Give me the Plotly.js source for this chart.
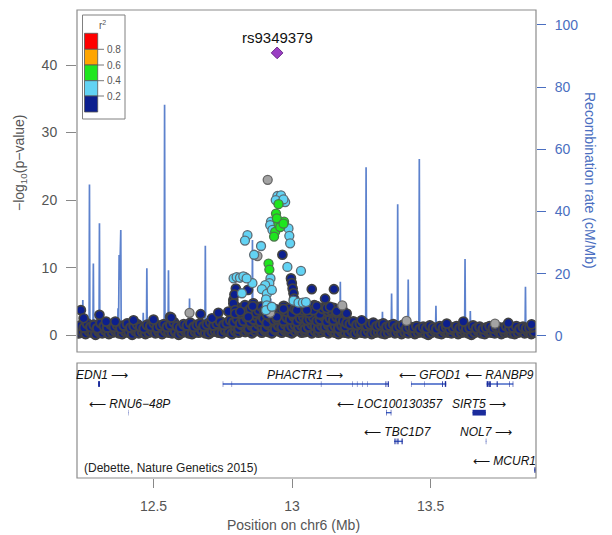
<!DOCTYPE html>
<html><head><meta charset="utf-8">
<script src="https://cdn.plot.ly/plotly-3.0.1.min.js"></script>
<style>html,body{margin:0;padding:0;background:#fff}#chart{width:612px;height:535px}</style>
</head><body><div id="chart"></div>
<script>
// ---------------- DATA ----------------
var lead_pos = [12.946];
var lead_p = [41.8];
var lead_name = 'rs9349379';

// r2 < 0.2 (navy): low band row
var navyA_pos = [12.231,12.243,12.255,12.267,12.279,12.291,12.303,12.315,12.327,12.339,
12.351,12.363,12.375,12.387,12.399,12.411,12.423,12.435,12.447,12.459,
12.471,12.483,12.495,12.507,12.519,12.531,12.543,12.555,12.567,12.579,
12.591,12.603,12.615,12.627,12.639,12.651,12.663,12.675,12.687,12.699,
12.711,12.723,12.735,12.747,12.759,12.771,12.783,12.795,12.807,12.819,
12.831,12.843,12.855,12.867,12.879,12.891,12.903,12.915,12.927,12.939,
12.951,12.963,12.975,12.987,12.999,13.011,13.023,13.035,13.047,13.059,
13.071,13.083,13.095,13.107,13.119,13.131,13.143,13.155,13.167,13.179,
13.191,13.203,13.215,13.227,13.239,13.251,13.263,13.275,13.287,13.299,
13.311,13.323,13.335,13.347,13.359,13.371,13.383,13.395,13.407,13.419,
13.431,13.443,13.455,13.467,13.479,13.491,13.503,13.515,13.527,13.539,
13.551,13.563,13.575,13.587,13.599,13.611,13.623,13.635,13.647,13.659,
13.671,13.683,13.695,13.707,13.719,13.731,13.743,13.755,13.767,13.779,
13.791,13.803,13.815,13.827,13.839,13.851,13.863,13.873];
var navyA_p = [0.3,0.5,0.2,0.6,0.4,0.1,0.5,0.3,0.7,0.2,
0.4,0.6,0.3,0.2,0.5,0.4,0.1,0.6,0.3,0.5,
0.2,0.4,0.7,0.3,0.5,0.2,0.6,0.4,0.3,0.5,
0.1,0.4,0.6,0.3,0.2,0.5,0.4,0.7,0.3,0.2,
0.5,0.6,0.4,0.3,0.7,0.5,0.2,0.6,0.4,0.8,
0.5,0.7,0.3,0.6,0.9,0.4,0.7,0.5,0.3,0.8,
0.6,0.4,0.7,0.5,0.3,0.6,0.8,0.4,0.5,0.7,
0.3,0.6,0.4,0.5,0.7,0.3,0.6,0.4,0.2,0.5,
0.4,0.3,0.6,0.2,0.5,0.4,0.3,0.6,0.2,0.4,
0.5,0.3,0.2,0.4,0.6,0.3,0.5,0.2,0.4,0.3,
0.6,0.2,0.4,0.5,0.3,0.1,0.4,0.6,0.3,0.2,
0.5,0.4,0.3,0.6,0.2,0.4,0.5,0.3,0.1,0.4,
0.6,0.3,0.2,0.5,0.4,0.3,0.6,0.2,0.4,0.5,
0.3,0.2,0.4,0.6,0.3,0.5,0.2,0.4];

// navy: upper band row
var navyB_pos = [12.237,12.249,12.261,12.273,12.285,12.297,12.309,12.321,12.333,12.345,
12.357,12.369,12.381,12.393,12.405,12.417,12.429,12.441,12.453,12.465,
12.477,12.489,12.501,12.513,12.525,12.537,12.549,12.561,12.573,12.585,
12.597,12.609,12.621,12.633,12.645,12.657,12.669,12.681,12.693,12.705,
12.717,12.729,12.741,12.753,12.765,12.777,12.789,12.801,12.813,12.825,
12.837,12.849,12.861,12.873,12.885,12.897,12.909,12.921,12.933,12.945,
12.957,12.969,12.981,12.993,13.005,13.017,13.029,13.041,13.053,13.065,
13.077,13.089,13.101,13.113,13.125,13.137,13.149,13.161,13.173,13.185,
13.197,13.209,13.221,13.233,13.245,13.257,13.269,13.281,13.293,13.305,
13.317,13.329,13.341,13.353,13.365,13.377,13.389,13.401,13.413,13.425,
13.437,13.449,13.461,13.473,13.485,13.497,13.509,13.521,13.533,13.545,
13.557,13.569,13.581,13.593,13.605,13.617,13.629,13.641,13.653,13.665,
13.677,13.689,13.701,13.713,13.725,13.737,13.749,13.761,13.773,13.785,
13.797,13.809,13.821,13.833,13.845,13.857,13.869];
var navyB_p = [1.4,1.1,1.7,1.2,1.5,1.0,1.8,1.3,1.1,1.6,
1.2,1.5,1.0,1.4,1.7,1.1,1.3,1.6,1.2,1.0,
1.5,1.3,1.8,1.1,1.4,1.6,1.2,1.5,1.9,1.3,
1.1,1.6,1.4,1.8,1.2,1.5,1.7,1.3,1.6,1.9,
1.4,1.7,2.0,1.5,1.8,2.2,1.9,2.4,1.7,2.1,
2.6,1.9,2.3,2.8,2.0,2.5,1.8,2.7,2.2,2.4,
2.9,2.1,2.6,2.3,2.8,2.0,2.5,2.7,2.2,2.4,
2.6,2.1,2.3,2.8,2.0,2.5,2.2,2.7,2.4,2.1,
1.8,1.6,2.0,1.5,1.7,1.9,1.4,1.6,1.8,1.3,
1.5,1.7,1.2,1.4,1.6,1.1,1.3,1.5,1.0,1.2,
1.1,1.3,0.9,1.2,1.0,1.4,1.1,0.9,1.3,1.0,
1.2,0.9,1.1,1.3,1.0,1.2,0.9,1.1,1.4,1.0,
1.2,0.9,1.1,1.3,1.0,1.2,1.1,0.9,1.3,1.0,
1.1,1.3,0.9,1.2,1.0,1.1,1.2];

// navy: raised band around the peak
var navyC_pos = [12.790,12.800,12.810,12.820,12.830,12.840,12.850,12.860,12.870,12.880,
12.890,12.900,12.910,12.920,12.930,12.940,12.950,12.960,12.970,12.980,
12.990,13.000,13.010,13.020,13.030,13.040,13.050,13.060,13.070,13.080,
13.090,13.100,13.110,13.120,13.130,13.140,13.150,13.160,13.170,13.180,13.190];
var navyC_p = [3.4,4.1,3.2,3.8,4.4,3.5,3.9,4.6,3.3,3.7,
4.2,3.6,3.0,4.0,3.4,3.8,3.1,3.6,4.3,3.5,
4.0,3.2,3.9,4.5,3.4,3.7,4.1,3.3,3.8,4.4,
3.6,3.1,3.9,4.2,3.5,3.7,4.0,3.3,3.6,3.9,3.2];
var navyD_pos = [12.795,12.807,12.819,12.831,12.843,12.855,12.867,12.879,12.891,12.903,
12.915,12.927,12.939,12.951,12.963,12.975,12.987,12.999,13.011,13.023,
13.035,13.047,13.059,13.071,13.083,13.095,13.107,13.119,13.131,13.143,
13.155,13.167,13.179,13.191];
var navyD_p = [1.3,1.0,1.5,1.2,0.9,1.4,1.1,1.6,1.2,1.0,
1.5,1.3,0.9,1.4,1.2,1.6,1.0,1.3,1.5,1.1,
1.4,0.9,1.2,1.6,1.3,1.0,1.4,1.2,1.5,1.1,
1.3,1.0,1.4,1.2];
// navy: scattered higher points
var navyE_pos = [12.238,12.248,12.305,12.329,12.362,12.428,12.500,12.560,12.564,12.670,
12.711,12.734,12.770,12.788,12.788,12.795,12.797,12.792,12.813,12.841,
12.842,12.860,12.858,12.945,12.965,12.969,12.996,12.999,13.002,13.005,
13.007,13.017,13.071,13.077,13.119,13.125,13.137,13.151,13.161,13.197,
13.089,13.053,13.251,13.558,13.618,13.780,13.864,12.795,12.813];
var navyE_p = [3.7,2.5,3.0,2.0,2.0,2.2,2.3,2.7,2.6,3.1,
2.5,3.3,3.5,5.2,4.7,3.7,6.9,6.0,3.2,6.7,
2.7,4.7,4.3,2.7,11.9,3.9,8.4,7.7,6.9,6.2,
5.4,3.7,6.8,3.7,5.4,4.0,4.2,6.8,3.5,3.2,
4.3,3.7,2.2,1.7,2.0,1.8,1.6,3.2,3.5];

// no LD information (gray)
var gray_pos = [12.912,12.875,13.181,12.630,13.413,13.732,12.830,12.921];
var gray_p = [23.0,11.7,4.4,3.3,2.1,1.7,8.6,3.3];

// 0.2 <= r2 < 0.4 (light blue)
var lblue_pos = [12.947,12.960,12.975,12.941,12.969,12.924,12.921,12.987,12.990,12.993,
12.929,12.839,12.830,12.888,12.863,12.983,13.032,12.922,12.918,12.903,
12.891,12.909,12.906,12.909,12.906,12.927,12.927,12.857,12.819,13.005,
13.023,13.039,13.050,12.789,12.800,12.812,12.824,12.836];
var lblue_p = [20.6,20.7,19.7,20.0,20.1,16.8,16.3,15.8,14.7,13.6,
15.6,14.8,14.0,13.2,11.9,10.1,9.5,8.4,7.7,7.4,
6.8,6.1,5.3,4.4,3.7,6.7,4.2,7.7,6.2,5.1,
4.8,4.8,4.9,8.4,8.6,8.5,8.7,8.4];

// 0.4 <= r2 < 0.6 (green)
var green_pos = [12.951,12.942,12.971,12.951,12.939,12.935,12.957,12.945,12.969,12.915,12.918];
var green_p = [19.4,18.0,16.8,16.5,15.3,14.6,16.0,17.3,16.5,10.6,9.7];

// recombination rate (cM/Mb)
var rec_pos = [12.226,12.2435,12.245,12.2465,12.2675,12.269,12.2705,12.2815,12.283,12.2845,
12.3035,12.305,12.3065,12.370,12.372,12.374,12.376,12.378,12.382,12.3835,
12.4615,12.463,12.4645,12.4745,12.476,12.4775,12.5385,12.540,12.5415,12.5525,
12.554,12.5555,12.6285,12.630,12.6315,12.6855,12.687,12.6885,12.8555,12.857,
12.8585,12.9215,12.923,12.9245,13.1725,13.174,13.1755,13.2655,13.267,13.2685,
13.3245,13.326,13.3275,13.3575,13.359,13.3605,13.3795,13.381,13.3825,13.4175,
13.419,13.4205,13.4575,13.459,13.4605,13.4955,13.497,13.4985,13.5175,13.519,
13.5205,13.6225,13.624,13.6255,13.6415,13.643,13.6445,13.8405,13.842,13.8435,13.880];
var rec_rate = [1.0,0.8,11.5,0.8,0.8,48.7,0.8,0.8,23.3,0.8,
0.8,36.2,0.8,0.8,8.9,3.0,26.0,18.0,34.0,0.8,
0.8,7.4,0.8,0.8,21.7,0.8,0.8,74.3,0.8,0.8,
21.1,0.8,0.8,12.0,0.8,0.8,29.0,0.8,0.8,30.8,
0.8,0.8,12.0,0.8,0.8,17.4,0.8,0.8,54.2,0.8,
0.8,7.7,0.8,0.8,13.6,0.8,0.8,42.3,0.8,0.8,
18.1,0.8,0.8,56.9,0.8,0.8,5.0,0.8,0.8,9.7,
0.8,0.8,24.7,0.8,0.8,8.0,0.8,0.8,15.8,0.8,1.0];

// genes
var gene_name = ['EDN1','RNU6\u221248P','PHACTR1','GFOD1','RANBP9','LOC100130357','SIRT5','TBC1D7','NOL7','MCUR1'];
var gene_start = [12.300,12.4085,12.750,13.429,13.702,13.339,13.651,13.368,13.699,13.874];
var gene_end = [12.307,12.4095,13.349,13.556,13.798,13.358,13.699,13.399,13.7005,13.879];
var gene_strand = ['+','-','+','-','-','-','+','-','+','-'];
var gene_row = [1,2,1,1,1,2,2,3,3,4];
var gene_label_x = [12.313,12.413,13.048,13.497,13.750,13.354,13.674,13.382,13.699,13.767];
var exon_gene = [0,1,2,2,2,2,2,2,2,2,2,3,3,3,3,4,4,4,4,4,5,5,6,7,7,7,7,8,9];
var exon_start = [12.300,12.4085,12.750,12.782,13.104,13.218,13.234,13.254,13.272,13.337,13.345,13.429,13.476,13.541,13.551,13.702,13.711,13.738,13.783,13.796,13.339,13.356,13.651,13.368,13.373,13.380,13.395,13.699,13.874];
var exon_end   = [12.307,12.4095,12.7515,12.7835,13.1055,13.2195,13.2355,13.2555,13.2735,13.340,13.349,13.4305,13.4775,13.544,13.556,13.709,13.717,13.742,13.785,13.798,13.341,13.358,13.699,13.370,13.376,13.384,13.399,13.7005,13.879];

var citation = '(Debette, Nature Genetics 2015)';
var x_ticks = [12.5,13,13.5];
var x_ticktext = ['12.5','13','13.5'];
var p_ticks = [0,10,20,30,40];
var rec_ticks = [0,20,40,60,80,100];
var ld_labels = ['0.8','0.6','0.4','0.2'];

// ---------------- STYLE ----------------
var C_NAVY='#0c1f8e', C_LBLUE='#62d3f4', C_GREEN='#1ee61e', C_ORANGE='#ffa500', C_RED='#ff0000';
var C_GRAY='#a3a3a3', C_REC='#4b74c8', C_AX='#555555', C_BLUE_AX='#4a6ec0';
var FONT='"Liberation Sans", Arial, Helvetica, sans-serif';
var L=77, T=10, W=459, H=468, BOT=478;
function pxX(x){return (x-L)/W;}
function pxY(y){return (BOT-y)/H;}
var mainBottom = pxY(352), geneTop = pxY(363);

function pts(xs, ys, fill, edge, lw, name){
  return {type:'scatter', mode:'markers', x:xs, y:ys, xaxis:'x', yaxis:'y2', name:name,
    hoverinfo:'skip', showlegend:false,
    marker:{size:9, color:fill, line:{color:edge, width:lw}}};
}

var traces = [];
traces.push({type:'scatter', mode:'lines', x:rec_pos, y:rec_rate, xaxis:'x', yaxis:'y',
  line:{color:C_REC, width:1.7}, opacity:0.9, showlegend:false, hoverinfo:'skip'});
traces.push(pts(navyA_pos, navyA_p, C_NAVY, '#3f3f44', 2.4, 'a'));
traces.push(pts(navyD_pos, navyD_p, C_NAVY, '#3f3f44', 2.4, 'd'));
traces.push(pts(navyB_pos, navyB_p, C_NAVY, '#3f3f44', 2.3, 'b'));
traces.push(pts(navyC_pos, navyC_p, C_NAVY, '#3f3f44', 2.3, 'c'));
traces.push(pts(navyE_pos, navyE_p, C_NAVY, '#424242', 1.7, 'e'));
traces.push(pts(gray_pos, gray_p, C_GRAY, '#666666', 1.3, 'gray'));
traces.push(pts(lblue_pos, lblue_p, C_LBLUE, '#5d6b74', 1.3, 'lblue'));
traces.push(pts(green_pos, green_p, C_GREEN, '#4a7a4a', 1.3, 'green'));
traces.push({type:'scatter', mode:'markers', x:lead_pos, y:lead_p, xaxis:'x', yaxis:'y2',
  marker:{symbol:'diamond', size:9, color:'#9b3fc4', line:{color:'#6b2a8a', width:1}},
  showlegend:false, hoverinfo:'skip'});

// gene lines
var gx=[], gy=[];
for (var i=0;i<gene_name.length;i++){ gx.push(gene_start[i], gene_end[i], null); gy.push(gene_row[i], gene_row[i], null); }
traces.push({type:'scatter', mode:'lines', x:gx, y:gy, xaxis:'x', yaxis:'y3',
  line:{color:'#3a5ec4', width:1.4}, showlegend:false, hoverinfo:'skip'});

var shapes = [];
// exons
for (var j=0;j<exon_start.length;j++){
  var r = gene_row[exon_gene[j]];
  shapes.push({type:'rect', xref:'x', yref:'y3', x0:exon_start[j], x1:exon_end[j], y0:r-0.1, y1:r+0.1,
    fillcolor:'#1b2c9c', line:{width:0}});
}
// panel borders
shapes.push({type:'rect', xref:'paper', yref:'paper', x0:0, x1:1, y0:mainBottom, y1:1, line:{color:'#8c8c8c', width:1.2}});
shapes.push({type:'rect', xref:'paper', yref:'paper', x0:0, x1:1, y0:0, y1:geneTop, line:{color:'#8c8c8c', width:1.2}});
// LD legend
shapes.push({type:'rect', xref:'paper', yref:'paper', x0:pxX(82.5), x1:pxX(125), y0:pxY(119), y1:pxY(15), fillcolor:'#ffffff', line:{color:'#808080', width:1}});
var ldCols=[C_RED,C_ORANGE,C_GREEN,C_LBLUE,C_NAVY];
var ldEdges=[33.3,49.3,65,80.7,96,112];
for (var k=0;k<5;k++){
  shapes.push({type:'rect', xref:'paper', yref:'paper', x0:pxX(84.5), x1:pxX(97.7), y0:pxY(ldEdges[k+1]), y1:pxY(ldEdges[k]),
    fillcolor:ldCols[k], line:{color:'#555', width:0.8}});
}
var annotations = [];
for (var k2=0;k2<4;k2++){
  shapes.push({type:'line', xref:'paper', yref:'paper', x0:pxX(97.7), x1:pxX(104), y0:pxY(ldEdges[k2+1]), y1:pxY(ldEdges[k2+1]), line:{color:'#555', width:0.8}});
  annotations.push({xref:'paper', yref:'paper', x:pxX(105), y:pxY(ldEdges[k2+1]), xanchor:'left', yanchor:'middle',
    text:ld_labels[k2], showarrow:false, font:{size:10, color:'#555', family:FONT}});
}
annotations.push({xref:'paper', yref:'paper', x:pxX(102.5), y:pxY(25), text:'r<sup>2</sup>', showarrow:false,
  xanchor:'center', yanchor:'middle', font:{size:10, color:'#555', family:FONT}});

// lead label
annotations.push({xref:'x', yref:'y2', x:lead_pos[0], y:lead_p[0], yshift:15, text:lead_name, showarrow:false,
  xanchor:'center', yanchor:'middle', font:{size:15, color:'#111', family:FONT}});
// axis titles
annotations.push({xref:'paper', yref:'paper', x:pxX(20), y:pxY(163), text:'\u2212log<sub>10</sub>(p\u2212value)', textangle:-90,
  showarrow:false, xanchor:'center', yanchor:'middle', font:{size:14, color:C_AX, family:FONT}});
annotations.push({xref:'paper', yref:'paper', x:pxX(590), y:pxY(180), text:'Recombination rate (cM/Mb)', textangle:90,
  showarrow:false, xanchor:'center', yanchor:'middle', font:{size:14, color:C_BLUE_AX, family:FONT}});
annotations.push({xref:'paper', yref:'paper', x:pxX(293), y:pxY(525), text:'Position on chr6 (Mb)',
  showarrow:false, xanchor:'center', yanchor:'middle', font:{size:14, color:C_AX, family:FONT}});
annotations.push({xref:'paper', yref:'paper', x:pxX(82), y:pxY(468), text:citation,
  showarrow:false, xanchor:'left', yanchor:'middle', font:{size:12, color:'#222', family:FONT}});
// gene labels
for (var g=0; g<gene_name.length; g++){
  var lbl = gene_strand[g]==='+' ? '<i>'+gene_name[g]+'</i> \u27f6' : '\u27f5 <i>'+gene_name[g]+'</i>';
  annotations.push({xref:'x', yref:'y3', x:gene_label_x[g], y:gene_row[g]-0.31, text:lbl, showarrow:false,
    xanchor:'center', yanchor:'middle', font:{size:12, color:'#111', family:FONT}});
}

var layout = {
  width:612, height:535, margin:{l:L, r:76, t:T, b:57}, paper_bgcolor:'#fff', plot_bgcolor:'rgba(0,0,0,0)',
  font:{family:FONT}, showlegend:false,
  xaxis:{domain:[0,1], range:[12.224,13.88], anchor:'y3', tickvals:x_ticks, ticktext:x_ticktext, ticks:'outside', ticklen:9,
    tickcolor:'#888', tickwidth:1, tickfont:{size:14, color:C_AX}, showgrid:false, zeroline:false, showline:false, ticklabelstandoff:6},
  yaxis:{domain:[mainBottom,1], range:[-5.2,104.8], side:'right', anchor:'x', tickvals:rec_ticks, ticks:'outside', ticklen:9,
    tickcolor:C_BLUE_AX, tickfont:{size:14, color:C_BLUE_AX}, showgrid:false, zeroline:false, showline:false, ticklabelstandoff:6},
  yaxis2:{overlaying:'y', side:'left', anchor:'x', range:[-2.5,48.15], tickvals:p_ticks, ticks:'outside', ticklen:10,
    tickcolor:'#888', tickfont:{size:14, color:C_AX}, showgrid:false, zeroline:false, showline:false, ticklabelstandoff:6},
  yaxis3:{domain:[0,geneTop], range:[4.279,0.267], anchor:'x', visible:false, showgrid:false, zeroline:false},
  shapes:shapes, annotations:annotations
};
Plotly.newPlot('chart', traces, layout, {staticPlot:true, displayModeBar:false});
</script></body></html>
